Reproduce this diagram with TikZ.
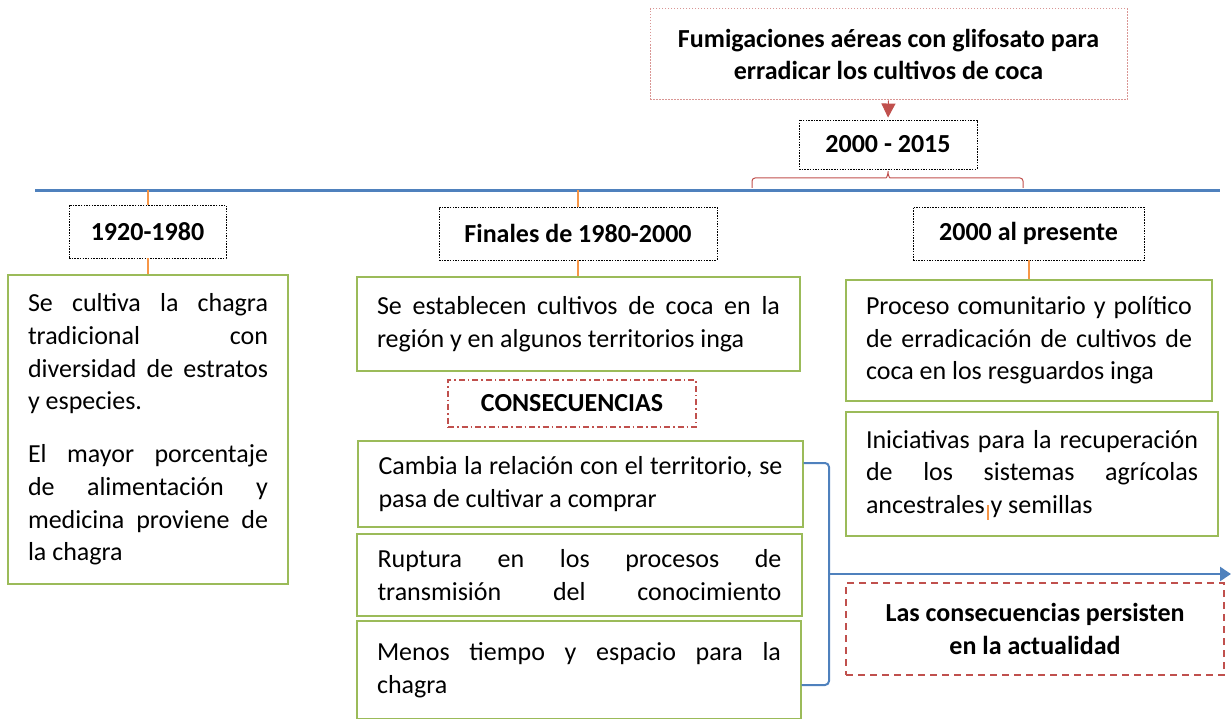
\documentclass[tikz,border=0pt]{standalone}
\usepackage{fontspec}
\setmainfont{Carlito}
\usepackage{tikz}
\usetikzlibrary{arrows.meta}
\definecolor{ejeazul}{HTML}{4F81BD}
\definecolor{verdecaja}{HTML}{9BBB59}
\definecolor{rojocaja}{HTML}{C0504D}
\definecolor{rosacaja}{HTML}{D99694}
\definecolor{naranja}{HTML}{F79646}
\newcommand\texto{\fontsize{26}{32.7}\selectfont}
\tikzset{
	caja/.style={draw=verdecaja, line width=1.3pt, inner sep=0pt, align=justify, font=\texto},
	fecha/.style={draw=black, line width=0.9pt, dash pattern=on 1.5pt off 1.2pt, inner sep=0pt, font=\texto\bfseries},
	marca/.style={draw=naranja, line width=2pt},
}

\begin{document}
\begin{tikzpicture}[x=1pt,y=-1pt]
			\useasboundingbox (0,0) rectangle (1231,719);
			% linea de tiempo
			\coordinate (ejeA) at (35,190.5);
			\coordinate (ejeB) at (1220,190.5);
			\draw[ejeazul, line width=3pt] (ejeA) -- (ejeB);

			\node[draw=rosacaja, line width=1pt, dash pattern=on 1.5pt off 1.5pt, minimum width=477pt, minimum height=91pt, inner sep=0pt, align=center, font=\texto\bfseries] (fumiga) at (888.5,54.5) {Fumigaciones aéreas con glifosato para\\erradicar los cultivos de coca};
			\node[fecha, minimum width=178pt, minimum height=49pt] (y2015) at (888,144.5) {2000 - 2015};
			\draw[rojocaja, line width=1pt, -{Triangle[length=14pt,width=14pt]}, shorten >=2pt] (fumiga.south) -- (y2015.north);
			\coordinate (llaveA) at (752,188);
			\coordinate (llaveB) at (1023,188);
			\draw[rojocaja, line width=1pt, rounded corners=3pt] (llaveA) -- (752,178) -- (883,178) to[out=0,in=-90] (y2015.south) to[out=-90,in=180] (893,178) -- (1023,178) -- (llaveB);

			\foreach \nombre/\x/\y/\ancho/\etiqueta in {y1920/147.5/231.5/157/1920-1980, y1980/578/233.5/278/Finales de 1980-2000, y2000/1028.5/233.5/231/2000 al presente}
			{
				\node[fecha, minimum width=\ancho pt, minimum height=53pt] (\nombre) at (\x,\y) {\etiqueta};
			}

			% columna 1920-1980
			\node[caja, text width=240pt, minimum width=280pt, minimum height=309pt] (chagra) at (148,429.5) {Se cultiva la chagra\linebreak tradicional con\linebreak diversidad de estratos\linebreak y especies.\par\vspace{20pt}El mayor porcentaje\linebreak de alimentación y\linebreak medicina proviene de\linebreak la chagra};

			% columna 1980-2000
			\node[caja, text width=403pt, minimum width=443pt, minimum height=94pt] (coca) at (578.5,324) {Se establecen cultivos de coca en la\linebreak región y en algunos territorios inga};
			\node[draw=rojocaja, line width=1.5pt, dash pattern=on 6pt off 3pt on 1.5pt off 3pt, minimum width=248pt, minimum height=47pt, inner sep=0pt, font=\texto\bfseries] (consec) at (572,403.5) {CONSECUENCIAS};
			\node[caja, text width=404pt, minimum width=445pt, minimum height=86pt] (cambia) at (580.5,484) {Cambia la relación con el territorio, se\linebreak pasa de cultivar a comprar};
			\node[caja, text width=404pt, minimum width=445pt, minimum height=82pt] (ruptura) at (579.5,575) {Ruptura en los procesos de\linebreak transmisión\hfill del\hfill conocimiento};
			\node[caja, text width=404pt, minimum width=444pt, minimum height=98pt] (menos) at (579,670) {Menos tiempo y espacio para la\linebreak chagra\par\vspace{8pt}};

			% 2000 al presente
			\node[caja, text width=326pt, minimum width=366pt, minimum height=121pt] (proceso) at (1029,340.5) {Proceso comunitario y político\linebreak de erradicación de cultivos de\linebreak coca en los resguardos inga};
			\node[caja, text width=332pt, minimum width=372pt, minimum height=124pt] (inicia) at (1032,474) {Iniciativas para la recuperación\linebreak de los sistemas agrícolas\linebreak ancestrales y semillas};
			\draw[naranja, line width=1.5pt] (988,505) -- (988,520);

			\foreach \nombre/\caja in {y1920/chagra, y1980/coca, y2000/proceso}
			{
				\draw[marca] (\nombre.south) -- (\nombre.south |- \caja.north);
			}
			\draw[marca] (y1920.north |- ejeA) -- (y1920.north);
			\draw[marca] (y1980.north |- ejeA) -- (y1980.north);

			% llave azul y flecha
			\coordinate (llaveSup) at (829,463);
			\coordinate (llaveInf) at (829,685);
			\draw[ejeazul, line width=2pt, rounded corners=4pt] (cambia.east |- llaveSup) -- (llaveSup) -- (llaveInf) -- (menos.east |- llaveInf);
			\coordinate (flechaIni) at (829,574);
			\coordinate (flechaFin) at (1231,574);
			\draw[ejeazul, line width=2.5pt, -{Triangle[length=11pt,width=14pt]}] (flechaIni) -- (flechaFin);
			\node[draw=rojocaja, line width=2pt, dash pattern=on 7pt off 5pt, minimum width=378pt, minimum height=92pt, inner sep=0pt, align=center, font=\texto\bfseries] (persiste) at (1035,629) {Las consecuencias persisten\\en la actualidad};
		\end{tikzpicture}
\end{document}
